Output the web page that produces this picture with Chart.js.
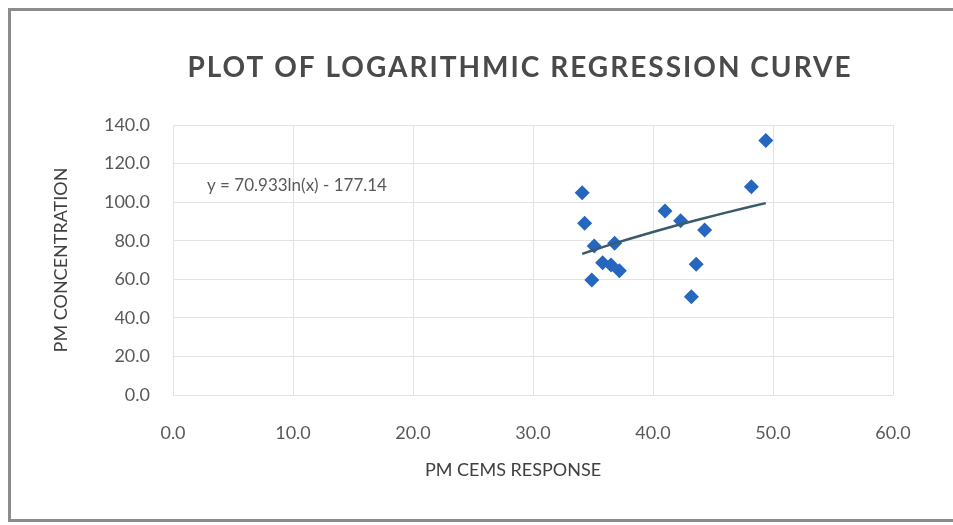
<!DOCTYPE html>
<html><head><meta charset="utf-8">
<script src="https://cdn.jsdelivr.net/npm/chart.js@4.4.1/dist/chart.umd.min.js"></script>
<style>
html,body{margin:0;padding:0;background:#fff;overflow:hidden;}
#wrap{position:relative;width:953px;height:525px;overflow:hidden;}
canvas{position:absolute;left:0;top:0;}
</style></head><body>
<div id="wrap"><canvas id="c" width="953" height="525"></canvas></div>
<script>
const chartTitle = 'PLOT OF LOGARITHMIC REGRESSION CURVE';
const xAxisTitle = 'PM CEMS RESPONSE';
const yAxisTitle = 'PM CONCENTRATION';
const equationText = 'y = 70.933ln(x) - 177.14';
const xTicks = [0, 10, 20, 30, 40, 50, 60];
const yTicks = [0, 20, 40, 60, 80, 100, 120, 140];
const pmCems = [34.1, 34.3, 35.1, 36.8, 35.8, 36.5, 37.2, 34.9, 41.0, 42.3, 44.3, 43.6, 43.2, 48.2, 49.4];
const pmConc = [104.9, 89.0, 77.3, 78.7, 68.6, 67.4, 64.4, 59.6, 95.4, 90.4, 85.6, 67.8, 51.0, 108.0, 131.9];
const coefA = 70.933;
const coefB = -177.14;
const trendX = [34.1, 35, 36, 37, 38, 40, 42, 44, 46, 48, 49.4];
const eqAnchor = {x: 2.83, y: 108.4};

const points = pmCems.map((x, i) => ({x: x, y: pmConc[i]}));
const trend = trendX.map(x => ({x: x, y: coefA * Math.log(x) + coefB}));

const framePlugin = {
  id: 'frame',
  beforeDraw(chart) {
    const ctx = chart.ctx;
    ctx.save();
    ctx.fillStyle = '#ffffff';
    ctx.fillRect(0, 0, chart.width, chart.height);
    ctx.strokeStyle = '#8c8c8c';
    ctx.lineWidth = 3;
    ctx.beginPath();
    ctx.moveTo(chart.width + 5, 9.5);
    ctx.lineTo(9.5, 9.5);
    ctx.lineTo(9.5, 520.5);
    ctx.lineTo(chart.width + 5, 520.5);
    ctx.stroke();
    ctx.restore();
  }
};

const textPlugin = {
  id: 'texts',
  afterDraw(chart) {
    const {ctx, scales: {x, y}} = chart;
    ctx.save();
    ctx.textBaseline = 'middle';
    ctx.textAlign = 'center';
    ctx.fillStyle = '#4a4a4a';
    ctx.font = 'bold 28px Lato';
    ctx.letterSpacing = '2px';
    ctx.fillText(chartTitle, 520, 68);
    ctx.letterSpacing = '0px';
    ctx.font = '18px Lato';
    ctx.fillStyle = '#404040';
    ctx.fillText(xAxisTitle, 513, 470);
    ctx.font = '17px Lato';
    ctx.fillStyle = '#595959';
    ctx.textAlign = 'left';
    ctx.fillText(equationText, x.getPixelForValue(eqAnchor.x), y.getPixelForValue(eqAnchor.y));
    ctx.restore();
  }
};

new Chart(document.getElementById('c'), {
  type: 'scatter',
  data: {
    datasets: [
      {
        type: 'line', data: trend, borderColor: '#3b5b6b', borderWidth: 2.5,
        pointRadius: 0, fill: false, order: 0, tension: 0
      },
      {
        data: points, pointStyle: 'rectRot', pointRadius: 7.5, pointHoverRadius: 7.5,
        backgroundColor: '#2567bf', borderColor: '#2567bf', borderWidth: 0, order: 1
      }
    ]
  },
  options: {
    responsive: false,
    animation: false,
    layout: {padding: {left: 10, top: 125, right: 60, bottom: 0}},
    plugins: {legend: {display: false}, tooltip: {enabled: false}, title: {display: false}},
    scales: {
      x: {
        type: 'linear', min: xTicks[0], max: xTicks[xTicks.length - 1],
        afterBuildTicks: s => { s.ticks = xTicks.map(v => ({value: v})); },
        ticks: {callback: v => Number(v).toFixed(1), font: {family: 'Lato', size: 18}, color: '#595959', padding: 27},
        grid: {color: '#e2e2e2', drawTicks: false},
        border: {display: false},
        afterFit: s => { s.height = 130; }
      },
      y: {
        type: 'linear', min: yTicks[0], max: yTicks[yTicks.length - 1],
        afterBuildTicks: s => { s.ticks = yTicks.map(v => ({value: v})); },
        ticks: {callback: v => Number(v).toFixed(1), font: {family: 'Lato', size: 18}, color: '#595959', padding: 23},
        grid: {color: '#e2e2e2', drawTicks: false},
        border: {display: false},
        title: {display: true, text: yAxisTitle, font: {family: 'Lato', size: 18}, color: '#404040', padding: {top: 40.7, bottom: 0}},
        afterFit: s => { s.width = 163; }
      }
    }
  },
  plugins: [framePlugin, textPlugin]
});
</script>
</body></html>
